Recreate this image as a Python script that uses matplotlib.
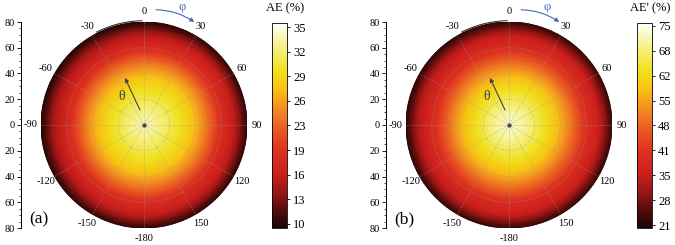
import numpy as np
import matplotlib
matplotlib.use("Agg")
import matplotlib.pyplot as plt
import matplotlib.tri as mtri
from matplotlib.colors import LinearSegmentedColormap

plt.rcParams['font.family'] = ['Liberation Serif', 'DejaVu Serif']

# polar angle theta (radial, deg) x azimuth phi (deg)
theta_deg = [0, 10, 20, 30, 40, 50, 60, 70, 80]
phi_deg = [-180, -150, -120, -90, -60, -30, 0, 30, 60, 90, 120, 150]

ae = [
    [33.6] * 12,
    [32.6, 32.5, 32.5, 32.4, 32.4, 32.5, 32.6, 32.7, 32.8, 32.8, 32.7, 32.6],
    [30.9, 30.7, 30.6, 30.5, 30.5, 30.6, 30.8, 31.0, 31.1, 31.1, 31.0, 30.9],
    [28.9, 28.7, 28.6, 28.4, 28.4, 28.6, 28.8, 29.1, 29.2, 29.1, 29.0, 28.9],
    [26.5, 26.3, 26.1, 25.9, 26.0, 26.2, 26.5, 26.8, 26.9, 26.8, 26.6, 26.5],
    [22.8, 22.4, 22.1, 21.8, 22.0, 22.2, 22.6, 23.0, 23.2, 23.0, 22.8, 22.7],
    [18.6, 18.2, 17.8, 17.5, 17.7, 17.8, 18.2, 18.6, 18.8, 18.7, 18.5, 18.5],
    [16.0, 15.6, 15.2, 14.8, 15.0, 15.0, 15.4, 15.8, 16.0, 15.9, 15.8, 15.9],
    [10.3, 10.2, 10.0, 9.8, 9.8, 9.7, 9.9, 10.2, 10.4, 10.3, 10.2, 10.3],
]
ae_prime = [
    [72.5] * 12,
    [70.8, 70.6, 70.5, 70.4, 70.4, 70.5, 70.7, 70.9, 71.0, 71.0, 70.9, 70.8],
    [66.5, 66.2, 66.0, 65.8, 65.9, 66.0, 66.4, 66.8, 67.0, 66.9, 66.7, 66.6],
    [61.5, 61.0, 60.7, 60.4, 60.5, 60.8, 61.3, 61.8, 62.0, 61.9, 61.7, 61.6],
    [56.0, 55.4, 55.0, 54.6, 54.8, 55.2, 55.8, 56.4, 56.7, 56.5, 56.2, 56.1],
    [48.0, 47.3, 46.7, 46.3, 46.5, 47.0, 47.7, 48.4, 48.7, 48.5, 48.2, 48.1],
    [39.8, 39.2, 38.7, 38.3, 38.5, 38.9, 39.5, 40.1, 40.3, 40.2, 40.0, 39.9],
    [34.6, 34.1, 33.6, 33.1, 33.4, 33.6, 34.2, 34.7, 35.0, 34.9, 34.7, 34.7],
    [22.5, 22.3, 22.0, 21.7, 21.8, 21.6, 22.0, 22.4, 22.6, 22.5, 22.4, 22.5],
]

angle_labels = [0, 30, 60, 90, 120, 150, -180, -150, -120, -90, -60, -30]
cbar_ticks_a = np.linspace(10, 35, 9)
cbar_ticks_b = np.linspace(21, 75, 9)

cmap = LinearSegmentedColormap.from_list("ae", [
    (0.00, (30/255, 5/255, 5/255)),
    (0.08, (80/255, 12/255, 12/255)),
    (0.17, (150/255, 22/255, 20/255)),
    (0.27, (205/255, 32/255, 28/255)),
    (0.38, (222/255, 50/255, 32/255)),
    (0.50, (235/255, 100/255, 35/255)),
    (0.60, (245/255, 150/255, 30/255)),
    (0.68, (248/255, 195/255, 20/255)),
    (0.77, (240/255, 225/255, 30/255)),
    (0.88, (245/255, 240/255, 130/255)),
    (1.00, (1, 1, 1)),
])

W, H = 675, 245
fig = plt.figure(figsize=(W / 100, H / 100), dpi=100)


def px(x0, y0, w, h):
    return [x0 / W, 1 - (y0 + h) / H, w / W, h / H]


def disc_tri(table):
    # triangulate in (phi, theta) space, refine, then map onto the disc
    z = np.array(table, dtype=float)
    z = np.hstack([z, z[:, :1]])
    ph = np.radians(np.array(phi_deg + [phi_deg[0] + 360], dtype=float))
    P, R = np.meshgrid(ph, np.array(theta_deg, dtype=float))
    nr, nc = P.shape
    tris = []
    for i in range(nr - 1):
        for j in range(nc - 1):
            a = i * nc + j
            b, c, d = a + 1, a + nc, a + nc + 1
            tris += [[a, b, d], [a, d, c]]
    tri = mtri.Triangulation(P.ravel(), R.ravel(), np.array(tris))
    rtri, rz = mtri.UniformTriRefiner(tri).refine_field(
        z.ravel(), triinterpolator=mtri.LinearTriInterpolator(tri, z.ravel()), subdiv=4)
    # phi clockwise from north
    x = rtri.y * np.sin(rtri.x)
    y = rtri.y * np.cos(rtri.x)
    return mtri.Triangulation(x, y, rtri.triangles), rz


def panel(dx, table, vlim, ticks, title, tag):
    # left theta axis
    lax = fig.add_axes(px(21 + dx, 22, 1, 206))
    for s in ['top', 'right', 'bottom']:
        lax.spines[s].set_visible(False)
    lax.spines['left'].set_linewidth(0.7)
    lax.set_xticks([])
    lax.set_ylim(-80, 80)
    lax.set_yticks(np.arange(-80, 81, 20))
    lax.set_yticklabels([str(abs(v)) for v in range(-80, 81, 20)])
    lax.set_yticks(np.arange(-80, 81, 5), minor=True)
    lax.tick_params(axis='y', which='major', length=3, width=0.6, labelsize=7.5, pad=1.5)
    lax.tick_params(axis='y', which='minor', length=1.5, width=0.5)
    lax.patch.set_visible(False)

    # colour disc on a plain axes underneath
    hax = fig.add_axes(px(41 + dx, 22, 206, 206))
    dtri, dz = disc_tri(table)
    im = hax.tripcolor(dtri, dz, shading='gouraud', cmap=cmap, vmin=vlim[0], vmax=vlim[1])
    hax.set_xlim(-80, 80)
    hax.set_ylim(-80, 80)
    hax.set_aspect('equal')
    hax.axis('off')

    ax = fig.add_axes(px(41 + dx, 22, 206, 206), projection='polar')
    ax.patch.set_visible(False)
    ax.set_theta_zero_location('N')
    ax.set_theta_direction(-1)
    ax.set_ylim(0, 80)
    ax.spines['polar'].set_visible(False)
    ax.set_thetagrids(np.arange(0, 360, 30), labels=[])
    ax.set_rgrids([20, 40, 60], labels=[])
    ax.grid(True, color='#999999', linestyle=':', linewidth=0.6, alpha=0.75)
    ax.tick_params(length=0)
    ax.plot([0], [0], 'o', ms=2, color='#444444', zorder=5)

    for a in angle_labels:
        ax.text(np.radians(a), 88, str(a), ha='center', va='center', fontsize=7.5,
                clip_on=False)

    # small outline artefact at top-left
    arc = np.radians(np.linspace(-27, -1, 30))
    ax.plot(arc, np.full(arc.shape, 81), color='#222222', lw=0.7, clip_on=False)

    # theta arrow
    ax.annotate('', xy=(np.radians(-22), 39.5), xytext=(np.radians(-15), 12),
                arrowprops=dict(arrowstyle='-|>', color='#3c4452', lw=0.8,
                                mutation_scale=6, shrinkA=0, shrinkB=0),
                annotation_clip=False)
    ax.text(np.radians(-38), 27.7, 'θ', ha='center', va='center', fontsize=10,
            color='#3c4452')

    # phi arrow
    ax.annotate('', xy=(np.radians(26), 89), xytext=(np.radians(6), 90),
                arrowprops=dict(arrowstyle='-|>', color='#4468b8', lw=0.8,
                                mutation_scale=6, shrinkA=0, shrinkB=0,
                                connectionstyle='arc3,rad=-0.15'),
                annotation_clip=False)
    ax.text(np.radians(18), 96.5, 'φ', ha='center', va='center', fontsize=9,
            color='#4468b8', clip_on=False)

    cax = fig.add_axes(px(272 + dx, 23, 15, 205))
    cb = fig.colorbar(im, cax=cax)
    cb.set_ticks(ticks)
    cb.set_ticklabels([str(int(t + 0.5)) for t in ticks])
    cb.outline.set_linewidth(0.6)
    cax.tick_params(length=2.5, width=0.6, labelsize=9, pad=2)
    fig.text((285 + dx) / W, 1 - 8 / H, title, ha='center', va='center', fontsize=9)
    fig.text((39 + dx) / W, 1 - 219 / H, tag, ha='center', va='center', fontsize=12.5)


panel(0, ae, (9.45, 35.55), cbar_ticks_a, 'AE (%)', '(a)')
panel(365, ae_prime, (20.3, 75.7), cbar_ticks_b, "AE' (%)", '(b)')

fig.savefig('out.png', dpi=100)
